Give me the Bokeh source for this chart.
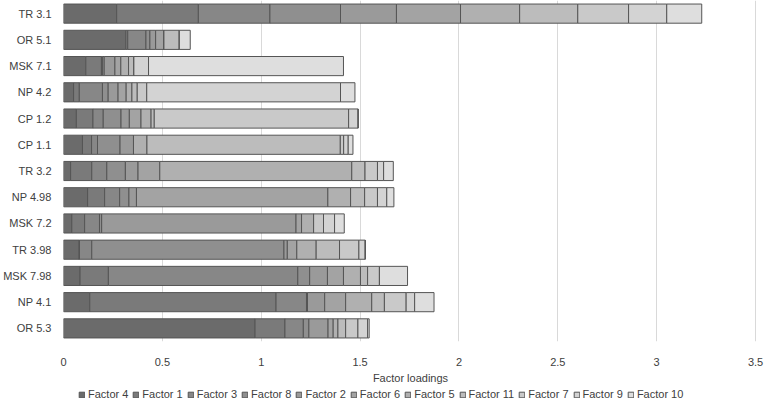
from bokeh.plotting import figure
from bokeh.layouts import column
from bokeh.models import ColumnDataSource, FactorRange, Range1d, Legend, LegendItem, NumeralTickFormatter, FixedTicker
from bokeh.embed import file_html
from bokeh.resources import INLINE

categories = ["TR 3.1", "OR 5.1", "MSK 7.1", "NP 4.2", "CP 1.2", "CP 1.1", "TR 3.2",
              "NP 4.98", "MSK 7.2", "TR 3.98", "MSK 7.98", "NP 4.1", "OR 5.3"]

factor_names = ["Factor 4", "Factor 1", "Factor 3", "Factor 8", "Factor 2", "Factor 6",
                "Factor 5", "Factor 11", "Factor 7", "Factor 9", "Factor 10"]

factor4 = [0.269, 0.315, 0.113, 0.051, 0.065, 0.096, 0.036, 0.122, 0.042, 0.079, 0.084, 0.133, 0.969]
factor1 = [0.413, 0.010, 0.079, 0.029, 0.084, 0.046, 0.107, 0.086, 0.065, 0.002, 0.143, 0.942, 0.151]
factor3 = [0.362, 0.092, 0.005, 0.117, 0.052, 0.030, 0.076, 0.076, 0.075, 0.062, 0.958, 0.154, 0.093]
factor8 = [0.357, 0.020, 0.009, 0.029, 0.090, 0.114, 0.094, 0.047, 0.011, 0.972, 0.060, 0.005, 0.028]
factor2 = [0.283, 0.029, 0.054, 0.050, 0.042, 0.068, 0.064, 0.038, 0.983, 0.017, 0.090, 0.087, 0.097]
factor6 = [0.324, 0.042, 0.030, 0.041, 0.059, 0.000, 0.110, 0.968, 0.028, 0.048, 0.081, 0.106, 0.026]
factor5 = [0.299, 0.000, 0.039, 0.029, 0.051, 0.068, 0.971, 0.115, 0.061, 0.098, 0.086, 0.132, 0.024]
factor11 = [0.294, 0.078, 0.027, 0.027, 0.016, 0.978, 0.067, 0.071, 0.000, 0.118, 0.036, 0.064, 0.039]
factor7 = [0.257, 0.000, 0.000, 0.048, 0.983, 0.017, 0.063, 0.065, 0.050, 0.098, 0.060, 0.110, 0.062]
factor9 = [0.193, 0.000, 0.074, 0.980, 0.048, 0.023, 0.031, 0.047, 0.056, 0.032, 0.000, 0.043, 0.049]
factor10 = [0.177, 0.055, 0.986, 0.073, 0.000, 0.024, 0.049, 0.036, 0.049, 0.000, 0.142, 0.098, 0.008]

x_ticks = [0, 0.5, 1, 1.5, 2, 2.5, 3, 3.5]

colors = ["#6b6b6b", "#7a7a7a", "#878787", "#8f8f8f", "#9a9a9a", "#a3a3a3",
          "#b0b0b0", "#bcbcbc", "#c9c9c9", "#d3d3d3", "#dedede"]

data = {"cat": categories}
for name, vals in zip(factor_names, [factor4, factor1, factor3, factor8, factor2, factor6,
                                     factor5, factor11, factor7, factor9, factor10]):
    data[name] = vals
source = ColumnDataSource(data)

FONT = "Liberation Sans"
TXT = "#404040"
EDGE = "#555555"

p = figure(width=766, height=386, y_range=FactorRange(*reversed(categories)),
           x_range=Range1d(0, 3.51), output_backend="svg", toolbar_location=None,
           min_border_left=0, min_border_right=9, min_border_top=0, min_border_bottom=0)

renderers = p.hbar_stack(factor_names, y="cat", height=0.73, fill_color=colors,
                         line_color=EDGE, line_width=1, source=source)

p.outline_line_color = None
p.ygrid.grid_line_color = None
p.xgrid.grid_line_color = "#d9d9d9"
p.xgrid.grid_line_width = 1

p.xaxis.ticker = FixedTicker(ticks=x_ticks)
p.xaxis.formatter = NumeralTickFormatter(format="0.[0]")
p.xaxis.axis_label = "Factor loadings"
p.xaxis.axis_label_text_font = FONT
p.xaxis.axis_label_text_font_style = "normal"
p.xaxis.axis_label_text_font_size = "11px"
p.xaxis.axis_label_text_color = TXT
p.xaxis.axis_label_standoff = 3
for ax in (p.xaxis, p.yaxis):
    ax.axis_line_color = None
    ax.major_tick_line_color = None
    ax.minor_tick_line_color = None
    ax.major_label_text_font = FONT
    ax.major_label_text_font_size = "11px"
    ax.major_label_text_color = TXT
p.xaxis.major_label_standoff = 10
p.yaxis.major_label_standoff = 6

# legend strip below the chart; swatch renderers hold NaN so they draw nothing themselves
lf = figure(width=766, height=16, x_range=Range1d(0, 1), y_range=Range1d(0, 1),
            output_backend="svg", toolbar_location=None,
            min_border_left=0, min_border_right=0, min_border_top=0, min_border_bottom=0)
lf.axis.visible = False
lf.grid.grid_line_color = None
lf.outline_line_color = None
nan = float("nan")
items = []
for n, c in zip(factor_names, colors):
    r = lf.hbar(y=[nan], left=[nan], right=[nan], height=0.5, fill_color=c, line_color=EDGE, line_width=1)
    items.append(LegendItem(label=n, renderers=[r]))

legend = Legend(items=items, orientation="horizontal", location=(15, 2), border_line_color=None,
                background_fill_alpha=0, label_text_font=FONT, label_text_font_size="11px",
                label_text_color=TXT, glyph_width=7, glyph_height=7, label_height=12,
                label_width=10, label_standoff=3, spacing=4, padding=0, margin=0)
lf.add_layout(legend, "center")

layout = column(p, lf, spacing=0)
open("out.html", "w").write(file_html(layout, INLINE))
